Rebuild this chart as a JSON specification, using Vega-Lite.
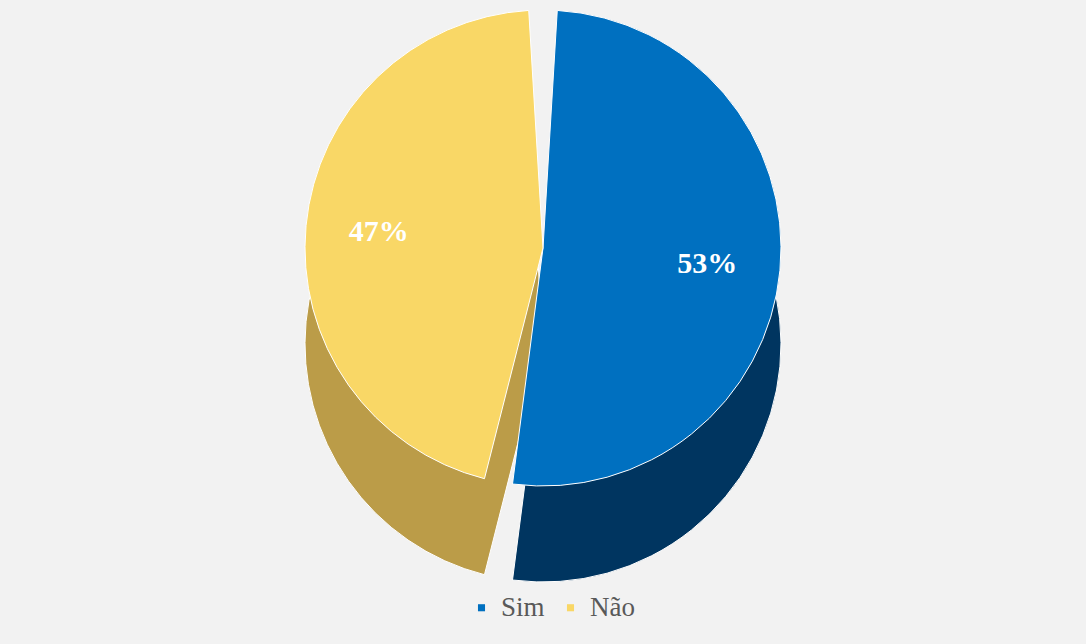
{
  "$schema": "https://vega.github.io/schema/vega-lite/v6.json",
  "width": 1086,
  "height": 644,
  "padding": 0,
  "autosize": {"type": "fit", "contains": "padding"},
  "background": "#f2f2f2",
  "config": {"view": {"stroke": null}, "font": "Liberation Serif"},
  "data": {"values": [
    {"resposta": "Sim", "valor": 0.53},
    {"resposta": "Não", "valor": 0.47}
  ]},
  "encoding": {
    "theta": {"field": "valor", "type": "quantitative", "stack": true}
  },
  "layer": [
    {
      "mark": {"type": "arc", "outerRadius": 238, "yOffset": 22, "padAngle": 0.12, "stroke": "white", "strokeWidth": 1},
      "encoding": {
        "color": {"field": "resposta", "type": "nominal", "sort": ["Sim", "Não"],
          "scale": {"domain": ["Sim", "Não"], "range": ["#003560", "#bb9c48"]}, "legend": null},
        "order": {"field": "resposta", "sort": "descending"}
      }
    },
    {
      "mark": {"type": "arc", "outerRadius": 238, "yOffset": -74, "padAngle": 0.12, "stroke": "white", "strokeWidth": 1},
      "encoding": {
        "color": {"field": "resposta", "type": "nominal", "sort": ["Sim", "Não"],
          "scale": {"domain": ["Sim", "Não"], "range": ["#0070c0", "#f9d766"]},
          "legend": {"orient": "none", "direction": "horizontal", "legendX": 468, "legendY": 594, "title": null,
            "symbolType": "square", "symbolSize": 50, "labelFont": "Liberation Serif", "labelFontSize": 27,
            "labelColor": "#595959", "columnPadding": 12, "labelOffset": 6, "symbolStrokeWidth": 0}},
        "order": {"field": "resposta", "sort": "descending"}
      }
    },
    {
      "mark": {"type": "text", "radius": 165, "yOffset": -74, "font": "Liberation Serif", "fontSize": 30, "fontWeight": "bold", "fill": "white"},
      "encoding": {
        "text": {"field": "valor", "type": "quantitative", "format": ".0%"},
        "detail": {"field": "resposta"},
        "order": {"field": "resposta", "sort": "descending"}
      }
    }
  ],
  "resolve": {"scale": {"color": "independent"}}
}
